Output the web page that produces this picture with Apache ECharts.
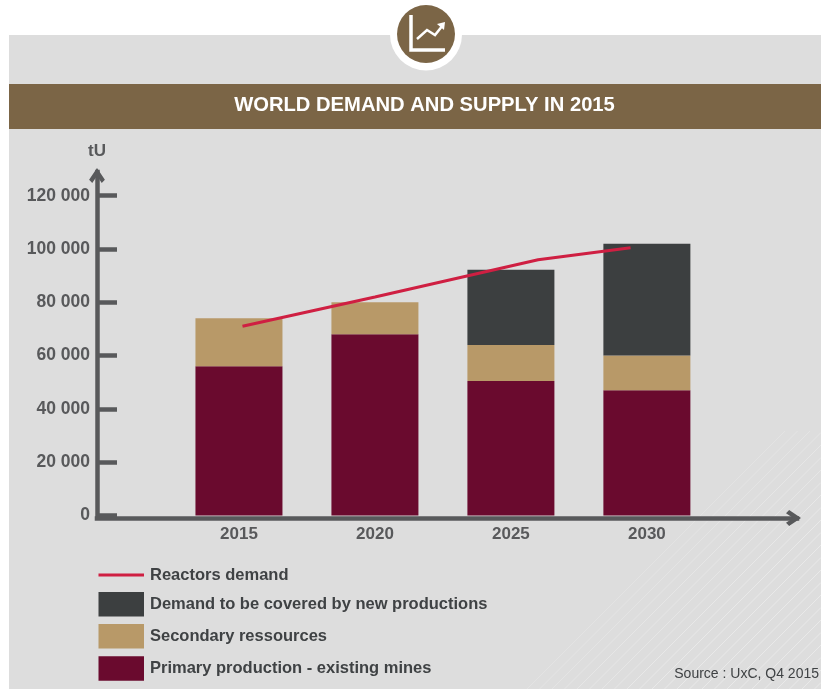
<!DOCTYPE html>
<html>
<head>
<meta charset="utf-8">
<style>html,body{margin:0;padding:0;background:#fff}#chart{width:821px;height:689px}</style>
<script src="https://cdn.jsdelivr.net/npm/echarts@6/dist/echarts.min.js"></script>
</head>
<body>
<div id="chart"></div>
<script>
const years = [2015, 2020, 2025, 2030];
const primary = [56000, 68000, 50500, 47000];
const secondary = [18000, 12000, 13500, 13000];
const newProductions = [0, 0, 28200, 42000];
const demandYears = [2015.13, 2020, 2026, 2029.4];
const demandValues = [71000, 82000, 96000, 100500];
const yTicks = [0, 20000, 40000, 60000, 80000, 100000, 120000];

const FONT = '"Liberation Sans", Arial, sans-serif';
const AXIS_COLOR = '#58595b';
const TEXT_COLOR = '#3f4244';
const BROWN = '#7b6546';
const arrowHead = 'path://M0 7.5 L5 0 L10 7.5 L8 9.5 L5 5 L2 9.5 Z';

// Faint diagonal hatching in the lower right corner of the panel
const hatch = [];
for (let i = 0; i < 24; i++) {
  const x0 = 527 + i * 12.5;
  const rise = Math.min(821 - x0, 258);
  hatch.push({
    type: 'line', silent: true, z: -8,
    shape: { x1: x0, y1: 689, x2: x0 + rise, y2: 689 - rise },
    style: { stroke: '#e9e9e9', lineWidth: 1, opacity: Math.min(1, 0.5 + i * 0.05) }
  });
}

// Tonnage comes first in each row: it is the column the stack accumulates
const stackRows = values => years.map((y, i) => [values[i], y]);
const stackEncode = { x: 1, y: 0 };

const legendText = { color: TEXT_COLOR, fontSize: 16.5, fontWeight: 'bold', fontFamily: FONT, padding: [2, 0, 0, 1] };

const chart = echarts.init(document.getElementById('chart'), null, { renderer: 'canvas' });
chart.setOption({
  animation: false,
  backgroundColor: '#ffffff',
  textStyle: { fontFamily: FONT },
  title: {
    text: 'WORLD DEMAND AND SUPPLY IN 2015',
    left: 419.5, top: 90, textAlign: 'center',
    textStyle: { color: '#ffffff', fontSize: 20.2, fontWeight: 'bold', fontFamily: FONT }
  },
  grid: { left: 97, right: 24, top: 172, bottom: 173.5 },
  legend: [
    {
      left: 93.5, top: 561.5, orient: 'vertical',
      itemWidth: 45.5, itemHeight: 24.5,
      textStyle: legendText,
      data: [{ name: 'Reactors demand', icon: 'path://M0 0H45V3H0Z' }]
    },
    {
      left: 93.5, top: 587, orient: 'vertical',
      itemWidth: 45.5, itemHeight: 24.5, itemGap: 7.6, icon: 'rect',
      textStyle: legendText,
      data: ['Demand to be covered by new productions', 'Secondary ressources', 'Primary production - existing mines']
    }
  ],
  xAxis: {
    type: 'value', min: 2009.78, max: 2035.52, offset: 2.5,
    splitLine: { show: false },
    axisLine: {
      show: true, onZero: false,
      symbol: ['none', arrowHead], symbolSize: [17, 15], symbolOffset: [0, -3.5],
      lineStyle: { color: AXIS_COLOR, width: 4.5, cap: 'square' }
    },
    axisTick: { show: false },
    axisLabel: {
      customValues: years, margin: 8, color: AXIS_COLOR,
      fontSize: 17, fontWeight: 'bold', fontFamily: FONT,
      formatter: v => String(v)
    }
  },
  yAxis: {
    type: 'value', min: 0, max: 128900,
    name: 'tU', nameLocation: 'end', nameGap: 12,
    nameTextStyle: { color: AXIS_COLOR, fontSize: 17, fontWeight: 'bold', fontFamily: FONT, align: 'center' },
    splitLine: { show: false },
    axisLine: {
      show: true,
      symbol: ['none', arrowHead], symbolSize: [17, 15], symbolOffset: [0, -3.5],
      lineStyle: { color: AXIS_COLOR, width: 4.5, cap: 'square' }
    },
    axisTick: {
      show: true, inside: true, length: 20, customValues: yTicks,
      lineStyle: { color: AXIS_COLOR, width: 4.5 }
    },
    axisLabel: {
      customValues: yTicks, margin: 7, color: AXIS_COLOR,
      fontSize: 17.5, fontWeight: 'bold', fontFamily: FONT,
      formatter: v => v === 0 ? '0' : (v / 1000) + ' 000'
    }
  },
  series: [
    {
      name: 'Primary production - existing mines', type: 'bar', stack: 'supply', barWidth: 87,
      itemStyle: { color: '#6a0a2e' }, encode: stackEncode,
      data: stackRows(primary)
    },
    {
      name: 'Secondary ressources', type: 'bar', stack: 'supply', barWidth: 87,
      itemStyle: { color: '#b89968' }, encode: stackEncode,
      data: stackRows(secondary)
    },
    {
      name: 'Demand to be covered by new productions', type: 'bar', stack: 'supply', barWidth: 87,
      itemStyle: { color: '#3c3f40' }, encode: stackEncode,
      data: stackRows(newProductions)
    },
    {
      name: 'Reactors demand', type: 'line', showSymbol: false, symbol: 'none', z: 5,
      lineStyle: { color: '#cf1f42', width: 3, cap: 'butt' },
      itemStyle: { color: '#cf1f42' },
      data: demandYears.map((y, i) => [y, demandValues[i]])
    }
  ],
  graphic: [
    { type: 'rect', silent: true, z: -10, shape: { x: 9, y: 35, width: 812, height: 654 }, style: { fill: '#dddddd' } },
    { type: 'rect', silent: true, z: -9, shape: { x: 9, y: 84, width: 812, height: 45 }, style: { fill: BROWN } },
    ...hatch,
    { type: 'circle', silent: true, z: -7, shape: { cx: 426, cy: 34.5, r: 36 }, style: { fill: '#ffffff' } },
    { type: 'circle', silent: true, z: -6, shape: { cx: 426, cy: 34, r: 29 }, style: { fill: BROWN } },
    { type: 'polyline', silent: true, z: -5, shape: { points: [[411, 15], [411, 50], [445, 50]] }, style: { stroke: '#ffffff', fill: 'none', lineWidth: 3.5 } },
    { type: 'polyline', silent: true, z: -5, shape: { points: [[417, 39], [427, 30], [435, 35], [443, 25]] }, style: { stroke: '#ffffff', fill: 'none', lineWidth: 2.5 } },
    { type: 'polygon', silent: true, z: -5, shape: { points: [[437, 24], [445, 22], [444, 30]] }, style: { fill: '#ffffff' } },
    {
      type: 'text', silent: true, z: 5, x: 819, y: 667,
      style: { text: 'Source : UxC, Q4 2015', align: 'right', fill: TEXT_COLOR, font: '14px ' + FONT }
    }
  ]
});
</script>
</body>
</html>
